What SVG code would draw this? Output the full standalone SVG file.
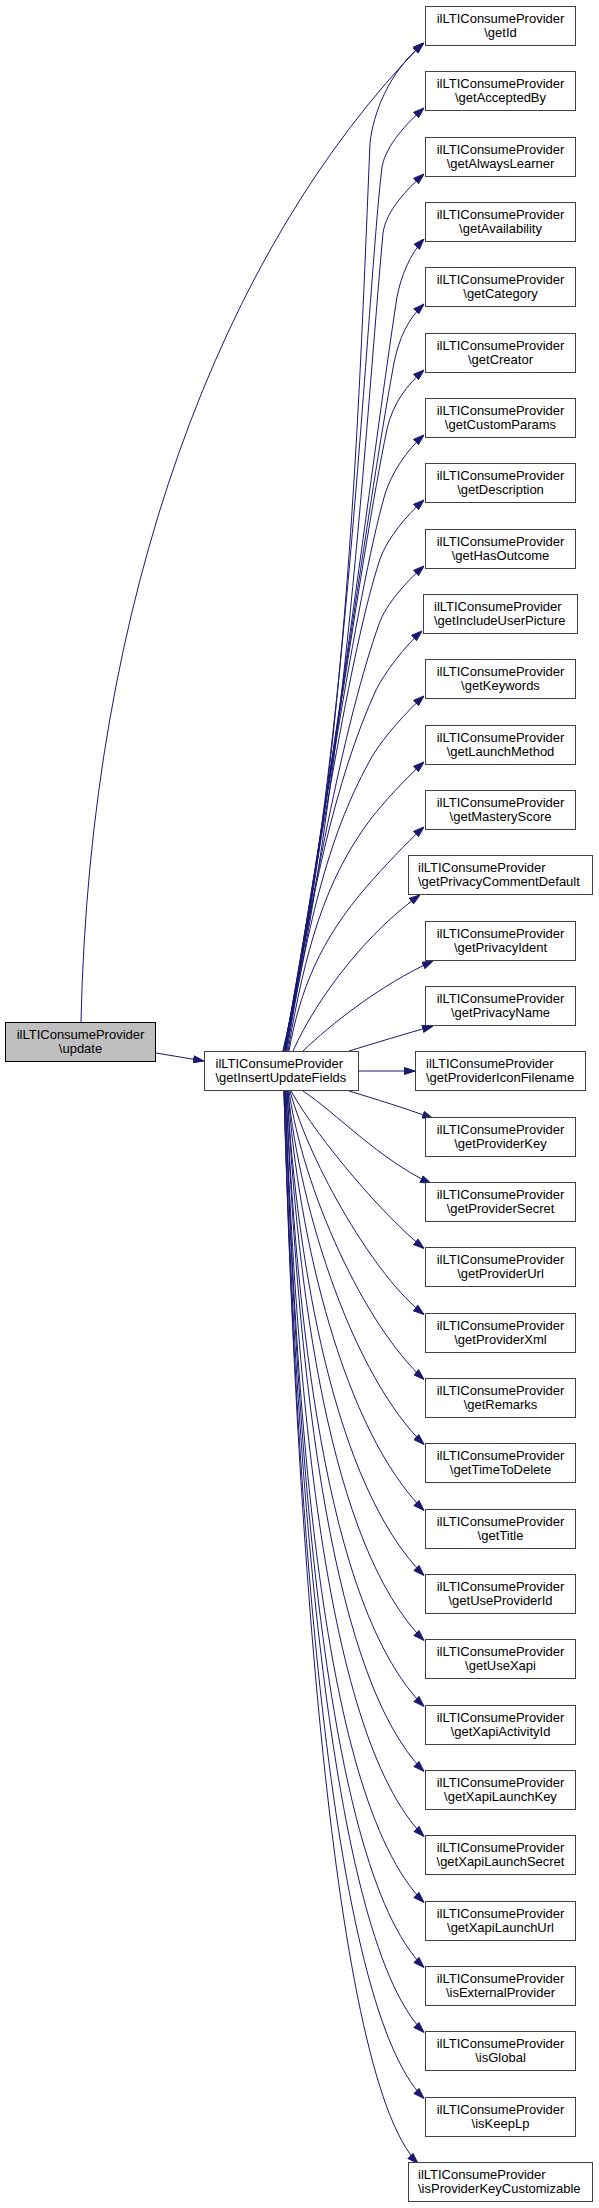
<svg xmlns="http://www.w3.org/2000/svg" width="599" height="2208" viewBox="0 0 599 2208">
<style>
.node rect{fill:#fff;stroke:#404040;stroke-width:1}
.root rect{fill:#bfbfbf;stroke:#000;stroke-width:1}
text{font-family:"Liberation Sans",Arial,Helvetica,sans-serif;font-size:13px;fill:#000}
.c{text-anchor:middle}
.edge{fill:none;stroke:#191970;stroke-width:1}
</style>
<defs>
<marker id="ah" markerWidth="11" markerHeight="8" refX="11" refY="4" orient="auto" markerUnits="userSpaceOnUse"><path d="M0.5,0.5 L11,4 L0.5,7.5 z" fill="#191970" stroke="#191970" stroke-width="1"/></marker>
</defs>
<rect width="599" height="2208" fill="#fff"/>
<g id="connectors" class="edge">
<path marker-end="url(#ah)" d="M81,1022 C90,600 220,250 423,43"/>
<path marker-end="url(#ah)" d="M156,1053 L204,1061"/>
<path marker-end="url(#ah)" d="M283,1051 C348,770 360,380 370,143 C373,115 388,72 424,43"/>
<path marker-end="url(#ah)" d="M283,1051 C346,780 368,280 382,167 C386,145 407,123 424,108"/>
<path marker-end="url(#ah)" d="M284,1051 C345,790 366,420 383,233 C386,211 407,189 424,174"/>
<path marker-end="url(#ah)" d="M284,1051 C330,810 372,460 397,297 C401,276 410,254 424,239"/>
<path marker-end="url(#ah)" d="M284,1051 C325,830 365,520 394,363 C399,338 408,319 424,304"/>
<path marker-end="url(#ah)" d="M285,1051 C323,840 360,560 387,429 C393,403 407,385 424,370"/>
<path marker-end="url(#ah)" d="M285,1051 C320,850 355,600 385,494 C392,472 407,450 424,435"/>
<path marker-end="url(#ah)" d="M285,1051 C318,860 350,650 380,559 C388,537 407,515 424,500"/>
<path marker-end="url(#ah)" d="M286,1051 C315,880 345,720 379,624 C386,604 407,581 424,566"/>
<path marker-end="url(#ah)" d="M286,1051 C310,900 335,780 376,690 C385,672 405,646 422,631"/>
<path marker-end="url(#ah)" d="M287,1051 C308,920 330,830 373,755 C384,737 407,711 424,696"/>
<path marker-end="url(#ah)" d="M288,1051 C305,950 325,880 370,820 C382,804 407,777 424,762"/>
<path marker-end="url(#ah)" d="M289,1051 C300,990 320,940 368,885 C382,869 407,842 424,827"/>
<path marker-end="url(#ah)" d="M293,1051 C318,995 370,930 420,895"/>
<path marker-end="url(#ah)" d="M303,1051 C330,1025 380,985 433,961"/>
<path marker-end="url(#ah)" d="M349,1051 C375,1043 405,1034 433,1026"/>
<path marker-end="url(#ah)" d="M358,1071 L415,1071"/>
<path marker-end="url(#ah)" d="M349,1091 C375,1099 405,1108 433,1118.5"/>
<path marker-end="url(#ah)" d="M303,1091 C335,1112 380,1160 431,1183.5"/>
<path marker-end="url(#ah)" d="M291,1091 C320,1142 384,1216 424,1248.5"/>
<path marker-end="url(#ah)" d="M290,1091 C310,1165 376,1278 424,1314.5"/>
<path marker-end="url(#ah)" d="M289,1091 C303,1190 364,1324.5 424,1379.5"/>
<path marker-end="url(#ah)" d="M288,1091 C300,1213 354,1376.5 424,1444.5"/>
<path marker-end="url(#ah)" d="M288,1091 C298,1238 344,1430.5 424,1510.5"/>
<path marker-end="url(#ah)" d="M287,1091 C297,1261 334,1485.5 424,1575.5"/>
<path marker-end="url(#ah)" d="M287,1091 C297,1283 329,1545.5 424,1640.5"/>
<path marker-end="url(#ah)" d="M286,1091 C296,1306 324,1606.5 424,1706.5"/>
<path marker-end="url(#ah)" d="M286,1091 C296,1329 324,1671.5 424,1771.5"/>
<path marker-end="url(#ah)" d="M285,1091 C295,1352 320,1731.5 424,1836.5"/>
<path marker-end="url(#ah)" d="M285,1091 C295,1375 316,1794.5 424,1902.5"/>
<path marker-end="url(#ah)" d="M285,1091 C295,1398 319,1862.5 424,1967.5"/>
<path marker-end="url(#ah)" d="M284,1091 C294,1421 324,1932.5 424,2032.5"/>
<path marker-end="url(#ah)" d="M284,1091 C294,1444 324,1998.5 424,2098.5"/>
<path marker-end="url(#ah)" d="M284,1091 C294,1466 328,2073.5 418,2163.5"/>
</g>
<g id="node-update" class="root"><rect x="5.5" y="1022.5" width="150" height="39"/><text class="c" x="80.5" y="1038.5">ilLTIConsumeProvider<tspan x="80.5" y="1053">\update</tspan></text></g>
<g id="node-getInsertUpdateFields" class="node"><rect x="204.5" y="1051.5" width="154" height="39"/><text x="215.5" y="1067.5">ilLTIConsumeProvider<tspan x="215.5" y="1082">\getInsertUpdateFields</tspan></text></g>
<g id="node-getId" class="node"><rect x="425.5" y="6.5" width="150" height="39"/><text class="c" x="500.5" y="22.5">ilLTIConsumeProvider<tspan x="500.5" y="37">\getId</tspan></text></g>
<g id="node-getAcceptedBy" class="node"><rect x="425.5" y="71.5" width="150" height="39"/><text class="c" x="500.5" y="87.5">ilLTIConsumeProvider<tspan x="500.5" y="102">\getAcceptedBy</tspan></text></g>
<g id="node-getAlwaysLearner" class="node"><rect x="425.5" y="137.5" width="150" height="39"/><text class="c" x="500.5" y="153.5">ilLTIConsumeProvider<tspan x="500.5" y="168">\getAlwaysLearner</tspan></text></g>
<g id="node-getAvailability" class="node"><rect x="425.5" y="202.5" width="150" height="39"/><text class="c" x="500.5" y="218.5">ilLTIConsumeProvider<tspan x="500.5" y="233">\getAvailability</tspan></text></g>
<g id="node-getCategory" class="node"><rect x="425.5" y="267.5" width="150" height="39"/><text class="c" x="500.5" y="283.5">ilLTIConsumeProvider<tspan x="500.5" y="298">\getCategory</tspan></text></g>
<g id="node-getCreator" class="node"><rect x="425.5" y="333.5" width="150" height="39"/><text class="c" x="500.5" y="349.5">ilLTIConsumeProvider<tspan x="500.5" y="364">\getCreator</tspan></text></g>
<g id="node-getCustomParams" class="node"><rect x="425.5" y="398.5" width="150" height="39"/><text class="c" x="500.5" y="414.5">ilLTIConsumeProvider<tspan x="500.5" y="429">\getCustomParams</tspan></text></g>
<g id="node-getDescription" class="node"><rect x="425.5" y="463.5" width="150" height="39"/><text class="c" x="500.5" y="479.5">ilLTIConsumeProvider<tspan x="500.5" y="494">\getDescription</tspan></text></g>
<g id="node-getHasOutcome" class="node"><rect x="425.5" y="529.5" width="150" height="39"/><text class="c" x="500.5" y="545.5">ilLTIConsumeProvider<tspan x="500.5" y="560">\getHasOutcome</tspan></text></g>
<g id="node-getIncludeUserPicture" class="node"><rect x="423.5" y="594.5" width="154" height="39"/><text x="434" y="610.5">ilLTIConsumeProvider<tspan x="434" y="625">\getIncludeUserPicture</tspan></text></g>
<g id="node-getKeywords" class="node"><rect x="425.5" y="659.5" width="150" height="39"/><text class="c" x="500.5" y="675.5">ilLTIConsumeProvider<tspan x="500.5" y="690">\getKeywords</tspan></text></g>
<g id="node-getLaunchMethod" class="node"><rect x="425.5" y="725.5" width="150" height="39"/><text class="c" x="500.5" y="741.5">ilLTIConsumeProvider<tspan x="500.5" y="756">\getLaunchMethod</tspan></text></g>
<g id="node-getMasteryScore" class="node"><rect x="425.5" y="790.5" width="150" height="39"/><text class="c" x="500.5" y="806.5">ilLTIConsumeProvider<tspan x="500.5" y="821">\getMasteryScore</tspan></text></g>
<g id="node-getPrivacyCommentDefault" class="node"><rect x="408.5" y="855.5" width="184" height="39"/><text x="418" y="871.5">ilLTIConsumeProvider<tspan x="418" y="886">\getPrivacyCommentDefault</tspan></text></g>
<g id="node-getPrivacyIdent" class="node"><rect x="425.5" y="921.5" width="150" height="39"/><text class="c" x="500.5" y="937.5">ilLTIConsumeProvider<tspan x="500.5" y="952">\getPrivacyIdent</tspan></text></g>
<g id="node-getPrivacyName" class="node"><rect x="425.5" y="986.5" width="150" height="39"/><text class="c" x="500.5" y="1002.5">ilLTIConsumeProvider<tspan x="500.5" y="1017">\getPrivacyName</tspan></text></g>
<g id="node-getProviderIconFilename" class="node"><rect x="415.5" y="1051.5" width="170" height="39"/><text x="426" y="1067.5">ilLTIConsumeProvider<tspan x="426" y="1082">\getProviderIconFilename</tspan></text></g>
<g id="node-getProviderKey" class="node"><rect x="425.5" y="1117.5" width="150" height="39"/><text class="c" x="500.5" y="1133.5">ilLTIConsumeProvider<tspan x="500.5" y="1148">\getProviderKey</tspan></text></g>
<g id="node-getProviderSecret" class="node"><rect x="425.5" y="1182.5" width="150" height="39"/><text class="c" x="500.5" y="1198.5">ilLTIConsumeProvider<tspan x="500.5" y="1213">\getProviderSecret</tspan></text></g>
<g id="node-getProviderUrl" class="node"><rect x="425.5" y="1247.5" width="150" height="39"/><text class="c" x="500.5" y="1263.5">ilLTIConsumeProvider<tspan x="500.5" y="1278">\getProviderUrl</tspan></text></g>
<g id="node-getProviderXml" class="node"><rect x="425.5" y="1313.5" width="150" height="39"/><text class="c" x="500.5" y="1329.5">ilLTIConsumeProvider<tspan x="500.5" y="1344">\getProviderXml</tspan></text></g>
<g id="node-getRemarks" class="node"><rect x="425.5" y="1378.5" width="150" height="39"/><text class="c" x="500.5" y="1394.5">ilLTIConsumeProvider<tspan x="500.5" y="1409">\getRemarks</tspan></text></g>
<g id="node-getTimeToDelete" class="node"><rect x="425.5" y="1443.5" width="150" height="39"/><text class="c" x="500.5" y="1459.5">ilLTIConsumeProvider<tspan x="500.5" y="1474">\getTimeToDelete</tspan></text></g>
<g id="node-getTitle" class="node"><rect x="425.5" y="1509.5" width="150" height="39"/><text class="c" x="500.5" y="1525.5">ilLTIConsumeProvider<tspan x="500.5" y="1540">\getTitle</tspan></text></g>
<g id="node-getUseProviderId" class="node"><rect x="425.5" y="1574.5" width="150" height="39"/><text class="c" x="500.5" y="1590.5">ilLTIConsumeProvider<tspan x="500.5" y="1605">\getUseProviderId</tspan></text></g>
<g id="node-getUseXapi" class="node"><rect x="425.5" y="1639.5" width="150" height="39"/><text class="c" x="500.5" y="1655.5">ilLTIConsumeProvider<tspan x="500.5" y="1670">\getUseXapi</tspan></text></g>
<g id="node-getXapiActivityId" class="node"><rect x="425.5" y="1705.5" width="150" height="39"/><text class="c" x="500.5" y="1721.5">ilLTIConsumeProvider<tspan x="500.5" y="1736">\getXapiActivityId</tspan></text></g>
<g id="node-getXapiLaunchKey" class="node"><rect x="425.5" y="1770.5" width="150" height="39"/><text class="c" x="500.5" y="1786.5">ilLTIConsumeProvider<tspan x="500.5" y="1801">\getXapiLaunchKey</tspan></text></g>
<g id="node-getXapiLaunchSecret" class="node"><rect x="425.5" y="1835.5" width="150" height="39"/><text class="c" x="500.5" y="1851.5">ilLTIConsumeProvider<tspan x="500.5" y="1866">\getXapiLaunchSecret</tspan></text></g>
<g id="node-getXapiLaunchUrl" class="node"><rect x="425.5" y="1901.5" width="150" height="39"/><text class="c" x="500.5" y="1917.5">ilLTIConsumeProvider<tspan x="500.5" y="1932">\getXapiLaunchUrl</tspan></text></g>
<g id="node-isExternalProvider" class="node"><rect x="425.5" y="1966.5" width="150" height="39"/><text class="c" x="500.5" y="1982.5">ilLTIConsumeProvider<tspan x="500.5" y="1997">\isExternalProvider</tspan></text></g>
<g id="node-isGlobal" class="node"><rect x="425.5" y="2031.5" width="150" height="39"/><text class="c" x="500.5" y="2047.5">ilLTIConsumeProvider<tspan x="500.5" y="2062">\isGlobal</tspan></text></g>
<g id="node-isKeepLp" class="node"><rect x="425.5" y="2097.5" width="150" height="39"/><text class="c" x="500.5" y="2113.5">ilLTIConsumeProvider<tspan x="500.5" y="2128">\isKeepLp</tspan></text></g>
<g id="node-isProviderKeyCustomizable" class="node"><rect x="408.5" y="2162.5" width="184" height="39"/><text x="418" y="2178.5">ilLTIConsumeProvider<tspan x="418" y="2193">\isProviderKeyCustomizable</tspan></text></g>
</svg>
